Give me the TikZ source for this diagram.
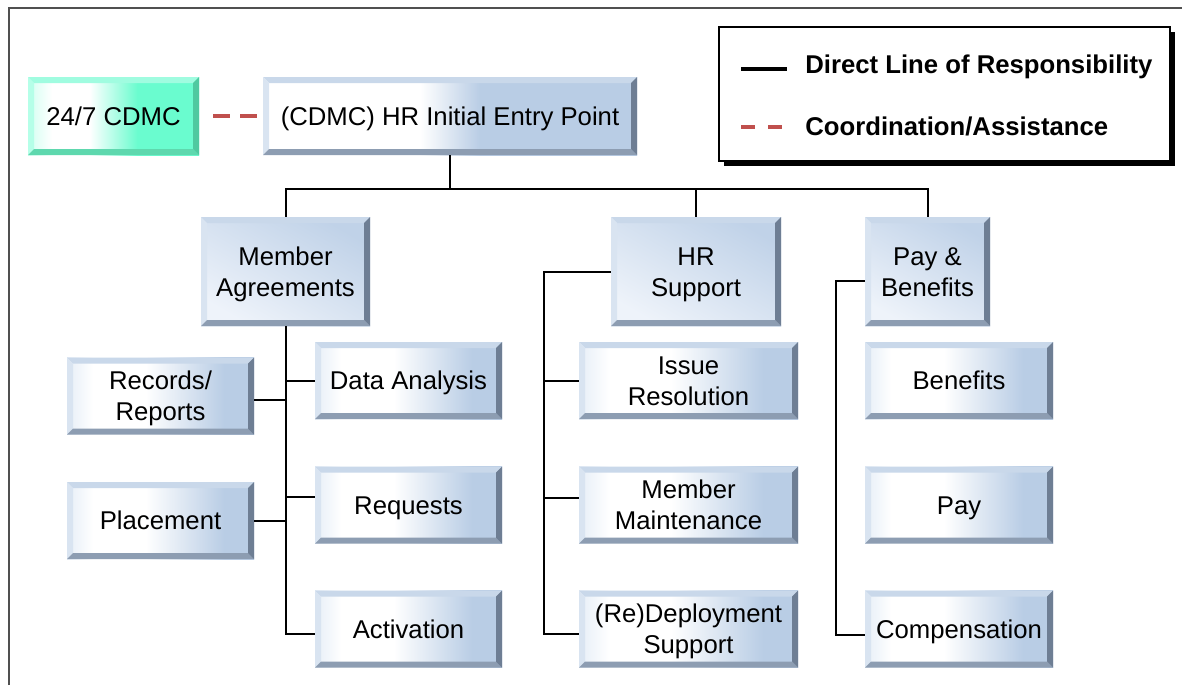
\documentclass[tikz,border=0pt]{standalone}
\usepackage{fontspec}
\setmainfont{Liberation Sans}
\usepackage{tikz}
\usetikzlibrary{
  shadows,
  calc
}
\definecolor{leafblue}{HTML}{B9CDE5}
\definecolor{leafedge}{HTML}{E6EEF7}
\definecolor{midlo}{HTML}{EEF3FA}
\definecolor{midhi}{HTML}{C0D2E8}
\definecolor{bevtop}{HTML}{C9D8EA}
\definecolor{bevleft}{HTML}{D9E4F1}
\definecolor{bevbot}{HTML}{8D9DB2}
\definecolor{bevright}{HTML}{6E7E94}
\definecolor{aqua}{HTML}{6AFCCF}
\definecolor{aqualight}{HTML}{D2FFF1}
\definecolor{aquatop}{HTML}{A0FCE0}
\definecolor{aqualeft}{HTML}{B5FFE8}
\definecolor{aquabot}{HTML}{5ED8AE}
\definecolor{aquaright}{HTML}{4FC9A0}
\definecolor{coord}{HTML}{C0504D}
\definecolor{frameline}{HTML}{505050}
\newcommand\boxfont{\fontsize{12.85}{15.5}\selectfont}

\pgfdeclarehorizontalshading{taskshade}{100bp}{color(0bp)=(leafedge); color(25bp)=(leafedge); color(32bp)=(white); color(46bp)=(white); color(67bp)=(leafblue); color(100bp)=(leafblue)}
\pgfdeclarehorizontalshading{entryshade}{100bp}{color(0bp)=(white); color(46bp)=(white); color(54bp)=(leafblue); color(100bp)=(leafblue)}
\pgfdeclarehorizontalshading{cdmcshade}{100bp}{color(0bp)=(aqualight); color(25bp)=(aqualight); color(32bp)=(white); color(43bp)=(white); color(57bp)=(aqua); color(100bp)=(aqua)}
\pgfdeclareverticalshading{unitshade}{100bp}{color(0bp)=(midlo); color(25bp)=(midlo); color(75bp)=(midhi); color(100bp)=(midhi)}

\tikzset{
  bevel/.style n args={4}{path picture={
    \fill[#1] (path picture bounding box.north west) -- (path picture bounding box.north east)
      -- ([shift={(-3pt,-3pt)}]path picture bounding box.north east) -- ([shift={(3pt,-3pt)}]path picture bounding box.north west) -- cycle;
    \fill[#2] (path picture bounding box.north west) -- ([shift={(3pt,-3pt)}]path picture bounding box.north west)
      -- ([shift={(3pt,3pt)}]path picture bounding box.south west) -- (path picture bounding box.south west) -- cycle;
    \fill[#3] (path picture bounding box.south west) -- ([shift={(3pt,3pt)}]path picture bounding box.south west)
      -- ([shift={(-3pt,3pt)}]path picture bounding box.south east) -- (path picture bounding box.south east) -- cycle;
    \fill[#4] (path picture bounding box.north east) -- (path picture bounding box.south east)
      -- ([shift={(-3pt,3pt)}]path picture bounding box.south east) -- ([shift={(-3pt,-3pt)}]path picture bounding box.north east) -- cycle;
  }},
  orgbox/.style={rectangle, inner sep=0pt, align=center, font=\boxfont, shade,
    bevel={bevtop}{bevleft}{bevbot}{bevright}},
  ln1/.style={text height=9.2pt, text depth=0pt},
  ln2/.style={text height=24.7pt, text depth=0pt},
  taskbox/.style={orgbox, shading=taskshade, minimum height=38.5pt},
  unitbox/.style={orgbox, ln2, shading=unitshade, shading angle=-30, minimum height=54.5pt},
  resp/.style={draw=black, line width=1pt},
  assist/.style={draw=coord, line width=2pt, dash pattern=on 8.5pt off 5pt},
  legendtxt/.style={font=\boxfont\bfseries, inner sep=0pt, anchor=base west},
}

\begin{document}
\begin{tikzpicture}[x=0.5pt, y=-0.5pt]
\useasboundingbox (0,0) rectangle (1182,685);
\draw[frameline, line width=1pt] (9,685) -- (9,8) -- (1182,8);

% top row
\node[orgbox, ln1, shading=cdmcshade, bevel={aquatop}{aqualeft}{aquabot}{aquaright},
  minimum width=85.5pt, minimum height=39pt] (cdmc) at (113.5,116) {24/7 CDMC};
\node[orgbox, ln1, shading=entryshade, minimum width=187pt, minimum height=39pt] (entry) at (450,116) {(CDMC) HR Initial Entry Point};
\draw[assist, shorten <=7pt, shorten >=3pt] (cdmc.east) -- (entry.west);

% legend
\node[draw=black, line width=0.8pt, fill=white, minimum width=225.5pt, minimum height=67pt,
  drop shadow={shadow xshift=2.5pt, shadow yshift=-2.5pt, fill=black, opacity=1}] (legend) at (944.5,94) {};
\coordinate (lsolidA) at (741,69);
\coordinate (lsolidB) at (787,69);
\coordinate (ldashA) at (741,127);
\coordinate (ldashB) at (783,127);
\draw[resp, line width=1.7pt] (lsolidA) -- (lsolidB);
\draw[assist, dash pattern=on 7pt off 6.5pt] (ldashA) -- (ldashB);
\node[legendtxt] (ldirect) at (805,73) {Direct Line of Responsibility};
\node[legendtxt] (lassist) at (805,135) {Coordination/Assistance};

% second row
\node[unitbox, minimum width=84.5pt] (ma) at (285.5,271.5) {Member\\Agreements};
\node[unitbox, minimum width=85pt] (hrs) at (696,271.5) {HR\\Support};
\node[unitbox, minimum width=62.5pt] (pb) at (927.5,271.5) {Pay \&\\Benefits};

% leaves
\foreach \nm/\y/\ln/\txt in {rec/396/ln2/{Records/\\Reports}, plc/520.5/ln1/Placement}
  \node[taskbox, \ln, minimum width=93.5pt] (\nm) at (160.5,\y) {\txt};
\foreach \nm/\y/\ln/\txt in {data/380.5/ln1/Data Analysis, req/505/ln1/Requests, act/629/ln1/Activation}
  \node[taskbox, \ln, minimum width=93.5pt] (\nm) at (408.5,\y) {\txt};
\foreach \nm/\y/\ln/\txt in {iss/380.5/ln2/Issue\\Resolution, mm/505/ln2/Member\\Maintenance, dep/629/ln2/(Re)Deployment\\Support}
  \node[taskbox, \ln, minimum width=109.5pt] (\nm) at (688.5,\y) {\txt};
\foreach \nm/\y/\ln/\txt in {ben/380.5/ln1/Benefits, pay/505/ln1/Pay, comp/629/ln1/Compensation}
  \node[taskbox, \ln, minimum width=94pt] (\nm) at (959,\y) {\txt};

% lines of responsibility
\coordinate (busL) at (285.5,189);
\coordinate (busR) at (927.5,189);
\draw[resp] (entry.south) -- (entry.south |- busL);
\draw[resp] (ma.north) -- (busL) -- (busR) -- (pb.north);
\draw[resp] (hrs.north) -- (hrs.north |- busL);

\coordinate (actpt) at ([yshift=-2.5pt]act.west);
\coordinate (reqpt) at ([yshift=4pt]req.west);
\coordinate (recpt) at ([yshift=-2pt]rec.east);
\draw[resp] (ma.south) -- (ma.south |- actpt) -- (actpt);
\draw[resp] (ma.south |- data.west) -- (data.west);
\draw[resp] (ma.south |- reqpt) -- (reqpt);
\draw[resp] (recpt) -- (recpt -| ma.south);
\draw[resp] (plc.east) -- (plc.east -| ma.south);

\coordinate (hrbus) at (544,270);
\coordinate (deppt) at ([yshift=-2.5pt]dep.west);
\coordinate (mmpt) at ([yshift=3.5pt]mm.west);
\draw[resp] (hrs.west) -- (hrs.west -| hrbus) |- (deppt);
\draw[resp] (hrbus |- iss.west) -- (iss.west);
\draw[resp] (hrbus |- mmpt) -- (mmpt);

\coordinate (pbbus) at (836,281);
\coordinate (comppt) at ([yshift=-3pt]comp.west);
\draw[resp] (pbbus -| pb.west) -- (pbbus) |- (comppt);
\end{tikzpicture}
\end{document}
